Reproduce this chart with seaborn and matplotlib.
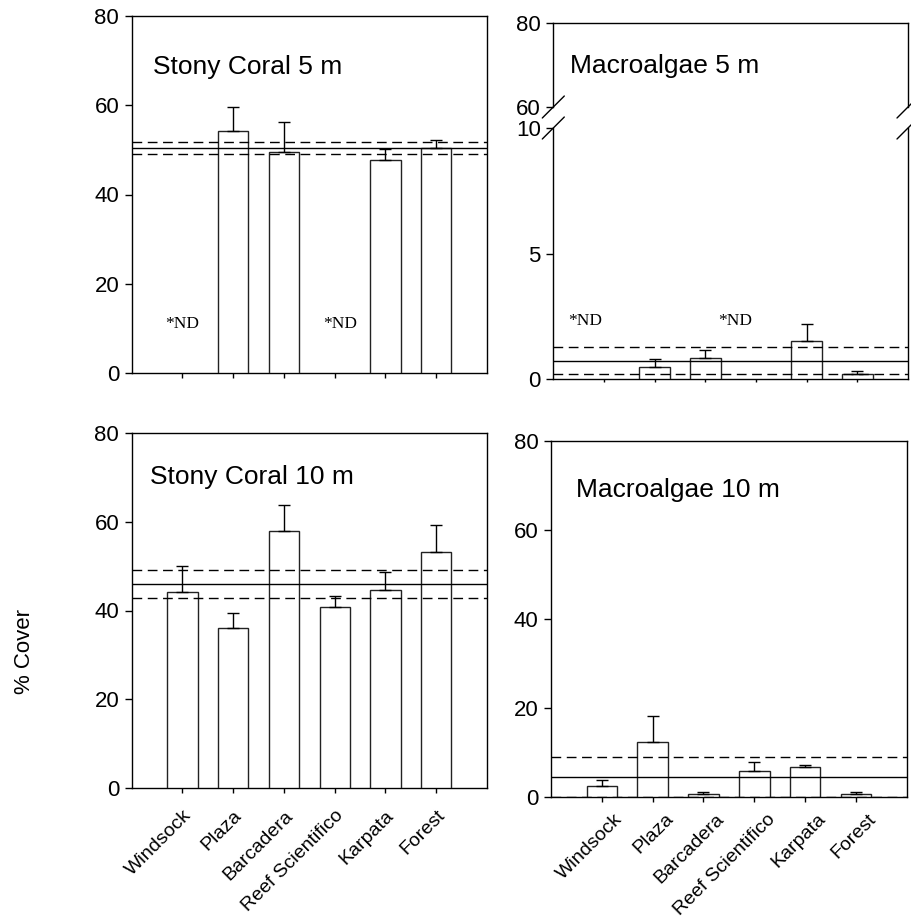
import numpy as np
import pandas as pd
import matplotlib
matplotlib.use("Agg")
import matplotlib.pyplot as plt
import matplotlib.transforms as mtransforms
import seaborn as sns

nan = np.nan
sites = ["Windsock", "Plaza", "Barcadera", "Reef Scientifico", "Karpata", "Forest"]

coral5_mean = [nan, 54.3, 49.6, nan, 47.7, 50.4]
coral5_se = [nan, 5.2, 6.6, nan, 2.5, 1.8]
coral5_ref = [50.4, 49.0, 51.7]          # overall mean, lower, upper

algae5_mean = [nan, 0.47, 0.82, nan, 1.53, 0.21]
algae5_se = [nan, 0.33, 0.33, nan, 0.68, 0.12]
algae5_ref = [0.70, 0.21, 1.27]

coral10_mean = [44.1, 36.1, 57.8, 40.7, 44.7, 53.2]
coral10_se = [5.8, 3.3, 5.9, 2.6, 3.9, 6.0]
coral10_ref = [46.0, 42.7, 49.2]

algae10_mean = [2.6, 12.5, 0.7, 6.0, 6.7, 0.7]
algae10_se = [1.3, 5.8, 0.6, 1.85, 0.5, 0.6]
algae10_ref = [4.6, 0.1, 9.1]

nd_label = "*ND"

sns.set_style("white")
plt.rcParams["font.family"] = ["Liberation Sans", "DejaVu Sans"]
plt.rcParams["axes.linewidth"] = 1.0
plt.rcParams["text.color"] = "black"
plt.rcParams["xtick.color"] = "black"
plt.rcParams["ytick.color"] = "black"
plt.rcParams["axes.labelcolor"] = "black"

W, H = 911, 923
fig = plt.figure(figsize=(W / 100, H / 100), dpi=100)


def px_axes(left, top, right, bottom):
    return fig.add_axes([left / W, 1 - bottom / H, (right - left) / W, (bottom - top) / H])


EDGE = "#222222"
TICK_FS = 16
TITLE_FS = 19
XLAB_FS = 14


def style_spines(ax):
    for s in ax.spines.values():
        s.set_visible(True)
        s.set_color("black")
        s.set_linewidth(1.0)


def draw_bars(ax, means, se, ref):
    df = pd.DataFrame({"site": sites, "cover": means})
    sns.barplot(data=df, x="site", y="cover", order=sites, color="white",
                edgecolor=EDGE, linewidth=1.0, width=0.6, errorbar=None,
                saturation=1, ax=ax, zorder=3)
    x = np.arange(len(sites))
    m = np.array(means, dtype=float)
    e = np.array(se, dtype=float)
    ax.errorbar(x, m, yerr=[np.zeros_like(e), e], fmt="none", ecolor="black",
                elinewidth=1.0, capsize=4, capthick=1.0, zorder=5)
    ax.axhline(ref[0], color="black", lw=1.0, zorder=4)
    ax.axhline(ref[1], color="black", lw=1.0, ls=(0, (7, 4)), zorder=4)
    ax.axhline(ref[2], color="black", lw=1.0, ls=(0, (7, 4)), zorder=4)
    ax.set_xlim(-1, 6)
    ax.set_xticks(x)
    ax.set_xlabel("")
    ax.set_ylabel("")
    style_spines(ax)
    ax.tick_params(axis="y", direction="out", length=5, width=1, labelsize=TICK_FS, left=True, pad=4)
    ax.tick_params(axis="x", direction="out", length=3.5, width=1, bottom=True)


# ---------- Top-left: Stony Coral 5 m ----------
ax1 = px_axes(131.7, 16, 487, 373)
draw_bars(ax1, coral5_mean, coral5_se, coral5_ref)
ax1.set_ylim(0, 80)
ax1.set_yticks([0, 20, 40, 60, 80])
ax1.set_xticklabels([])
ax1.text(-0.59, 67.0, "Stony Coral 5 m", fontsize=TITLE_FS, ha="left", va="baseline")
for xi in [0.0, 3.1]:
    ax1.text(xi, 10.0, nd_label, fontsize=12.5, ha="center", va="baseline",
             family=["Liberation Serif", "DejaVu Serif"])

# ---------- Top-right: Macroalgae 5 m (broken axis) ----------
UP_TOP, UP_BOT, LO_TOP, LO_BOT = 22.7, 107.0, 128.0, 379.0
ax2u = px_axes(553.3, UP_TOP, 908, UP_BOT)
ax2l = px_axes(553.3, LO_TOP, 908, LO_BOT)
draw_bars(ax2l, algae5_mean, algae5_se, algae5_ref)
ax2l.set_ylim(0, 10)
ax2l.set_yticks([0, 5, 10])
ax2l.set_xticklabels([])
ax2l.spines["top"].set_visible(False)
ax2l.tick_params(axis="x", length=2.5)

ax2u.set_xlim(-1, 6)
ax2u.set_ylim(60, 80)
ax2u.set_yticks([60, 80])
ax2u.set_xticks([])
style_spines(ax2u)
ax2u.spines["bottom"].set_visible(False)
ax2u.tick_params(axis="y", direction="out", length=5, width=1, labelsize=TICK_FS, left=True, pad=4)
ax2u.text(-0.67, 68.0, "Macroalgae 5 m", fontsize=TITLE_FS, ha="left", va="baseline")
for xi in [-0.37, 2.58]:
    ax2l.text(xi, 2.15, nd_label, fontsize=12.5, ha="center", va="baseline",
              family=["Liberation Serif", "DejaVu Serif"])

# break marks
dxu = 11 / (908 - 553.3)
dyu = 11 / (UP_BOT - UP_TOP)
dyl = 11 / (LO_BOT - LO_TOP)
for xx in (0, 1):
    ax2u.plot([xx - dxu, xx + dxu], [-dyu, dyu], transform=ax2u.transAxes,
              color="black", lw=1.0, clip_on=False)
    ax2l.plot([xx - dxu, xx + dxu], [1 - dyl, 1 + dyl], transform=ax2l.transAxes,
              color="black", lw=1.0, clip_on=False)

# ---------- Bottom-left: Stony Coral 10 m ----------
ax3 = px_axes(131.7, 432.7, 487, 788.3)
draw_bars(ax3, coral10_mean, coral10_se, coral10_ref)
ax3.set_ylim(0, 80)
ax3.set_yticks([0, 20, 40, 60, 80])
ax3.set_xticklabels(sites, rotation=45, ha="right", rotation_mode="anchor", fontsize=XLAB_FS)
ax3.tick_params(axis="x", pad=10)
ax3.text(-0.63, 68.4, "Stony Coral 10 m", fontsize=TITLE_FS, ha="left", va="baseline")

# ---------- Bottom-right: Macroalgae 10 m ----------
ax4 = px_axes(551, 440.7, 906.7, 797.3)
draw_bars(ax4, algae10_mean, algae10_se, algae10_ref)
ax4.set_ylim(0, 80)
ax4.set_yticks([0, 20, 40, 60, 80])
ax4.set_xticklabels(sites, rotation=45, ha="right", rotation_mode="anchor", fontsize=XLAB_FS)
ax4.tick_params(axis="x", pad=6)
shift = mtransforms.ScaledTranslation(12 / 100, 0, fig.dpi_scale_trans)
for lab in ax4.get_xticklabels():
    lab.set_transform(lab.get_transform() + shift)
ax4.text(-0.51, 67.4, "Macroalgae 10 m", fontsize=TITLE_FS, ha="left", va="baseline")

fig.text(24 / W, 1 - 651 / H, "% Cover", rotation=90, fontsize=16, ha="center", va="center")

fig.savefig("out.png", dpi=100, facecolor="white")
